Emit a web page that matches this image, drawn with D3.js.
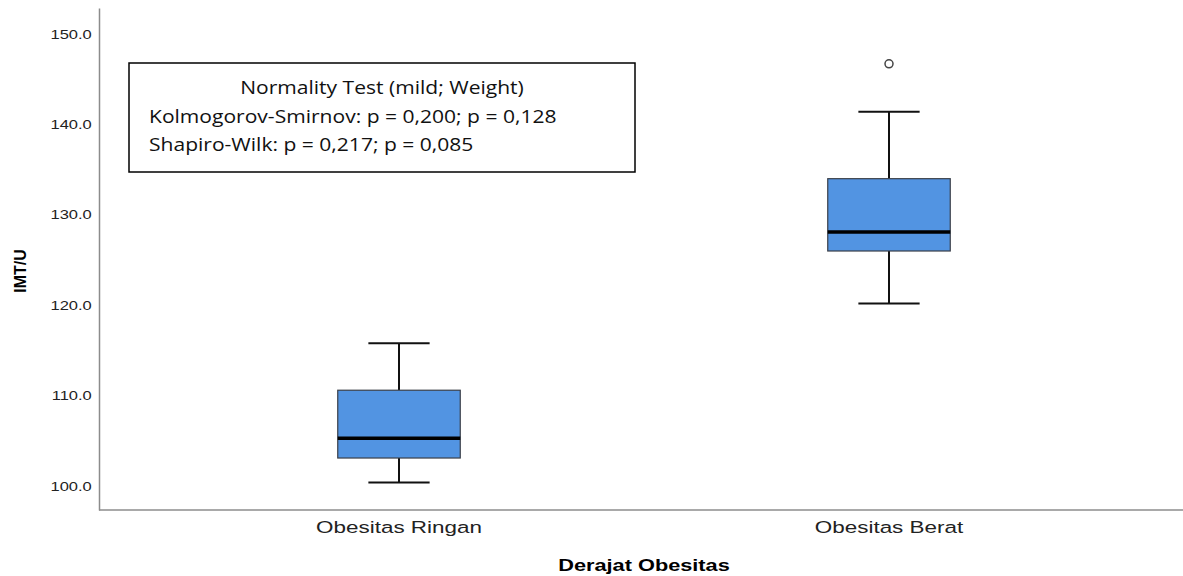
<!DOCTYPE html>
<html>
<head>
<meta charset="utf-8">
<script src="https://cdn.jsdelivr.net/npm/d3@7"></script>
<style>
  body { margin: 0; background: #fff; }
  svg { display: block; }
</style>
</head>
<body>
<script>
const categories = ['Obesitas Ringan', 'Obesitas Berat'];
// [lower whisker, Q1, median, Q3, upper whisker]
const lowWhisker = [100.4, 120.2];
const q1 = [103.1, 126.0];
const median = [105.3, 128.1];
const q3 = [110.6, 134.0];
const highWhisker = [115.8, 141.4];
const outliers = [[], [146.7]];
const yTicks = [100, 110, 120, 130, 140, 150];
const noteLines = [
    'Normality Test (mild; Weight)',
    'Kolmogorov-Smirnov: p = 0,200; p = 0,128',
    'Shapiro-Wilk: p = 0,217; p = 0,085'
];

const W = 1183, H = 576;
const axisLeftX = 99, axisBottomY = 510, axisTopY = 8;
const stretch = 'scale(1.32,1)';  // the source image is stretched horizontally

const svg = d3.select('body').append('svg')
    .attr('width', W)
    .attr('height', H);

const y = d3.scaleLinear()
    .domain([97.35, 152.88])
    .range([axisBottomY, axisTopY]);

const x = d3.scaleBand()
    .domain(categories)
    .range([154, 1134])
    .padding(0);

const boxW = x.bandwidth() * 0.25;
const capW = boxW / 2;

// y axis
const yAxis = d3.axisLeft(y)
    .tickValues(yTicks)
    .tickSize(0)
    .tickPadding(5.5)
    .tickFormat(d3.format('.1f'));

const gy = svg.append('g')
    .attr('transform', 'translate(' + axisLeftX + ',0)')
    .call(yAxis);
gy.select('.domain').attr('stroke', '#8c8c8c').attr('stroke-width', 1.5);
gy.selectAll('text')
    .attr('transform', stretch)
    .style('font-family', 'Liberation Sans, Arial, sans-serif')
    .style('font-size', '12.5px')
    .attr('fill', '#222');

// x axis
const xAxis = d3.axisBottom(x).tickSize(0).tickPadding(11);
const gx = svg.append('g')
    .attr('transform', 'translate(0,' + axisBottomY + ')')
    .call(xAxis);
gx.select('.domain').remove();
gx.append('line')
    .attr('x1', axisLeftX).attr('x2', W)
    .attr('stroke', '#8c8c8c').attr('stroke-width', 1.5);
gx.selectAll('text')
    .attr('transform', stretch)
    .style('font-family', 'Liberation Sans, Arial, sans-serif')
    .style('font-size', '17px')
    .attr('fill', '#222');

// axis titles
svg.append('text')
    .attr('transform', 'translate(26,271) rotate(-90)')
    .attr('text-anchor', 'middle')
    .style('font-family', 'Liberation Sans, Arial, sans-serif')
    .style('font-size', '16px')
    .style('font-weight', 'bold')
    .text('IMT/U');

svg.append('text')
    .attr('transform', 'translate(644,571) scale(1.36,1)')
    .attr('text-anchor', 'middle')
    .style('font-family', 'Liberation Sans, Arial, sans-serif')
    .style('font-size', '16px')
    .style('font-weight', 'bold')
    .text('Derajat Obesitas');

// boxes
const groups = svg.selectAll('.box')
    .data(categories)
    .enter().append('g')
    .attr('class', 'box')
    .attr('transform', function(d) {
        return 'translate(' + (x(d) + x.bandwidth() / 2) + ',0)';
    });

groups.append('line')
    .attr('y1', function(d, i) { return y(highWhisker[i]); })
    .attr('y2', function(d, i) { return y(q3[i]); })
    .attr('stroke', '#111').attr('stroke-width', 2);
groups.append('line')
    .attr('y1', function(d, i) { return y(lowWhisker[i]); })
    .attr('y2', function(d, i) { return y(q1[i]); })
    .attr('stroke', '#111').attr('stroke-width', 2);
groups.append('line')
    .attr('x1', -capW / 2).attr('x2', capW / 2)
    .attr('y1', function(d, i) { return y(highWhisker[i]); })
    .attr('y2', function(d, i) { return y(highWhisker[i]); })
    .attr('stroke', '#111').attr('stroke-width', 2);
groups.append('line')
    .attr('x1', -capW / 2).attr('x2', capW / 2)
    .attr('y1', function(d, i) { return y(lowWhisker[i]); })
    .attr('y2', function(d, i) { return y(lowWhisker[i]); })
    .attr('stroke', '#111').attr('stroke-width', 2);

groups.append('rect')
    .attr('x', -boxW / 2)
    .attr('width', boxW)
    .attr('y', function(d, i) { return y(q3[i]); })
    .attr('height', function(d, i) { return y(q1[i]) - y(q3[i]); })
    .attr('fill', '#5294e2')
    .attr('stroke', '#3a3f48')
    .attr('stroke-width', 1.2);

groups.append('line')
    .attr('x1', -boxW / 2).attr('x2', boxW / 2)
    .attr('y1', function(d, i) { return y(median[i]); })
    .attr('y2', function(d, i) { return y(median[i]); })
    .attr('stroke', '#000').attr('stroke-width', 3.5);

groups.selectAll('.outlier')
    .data(function(d, i) { return outliers[i]; })
    .enter().append('circle')
    .attr('class', 'outlier')
    .attr('cy', function(d) { return y(d); })
    .attr('r', 4)
    .attr('fill', '#fff')
    .attr('stroke', '#444')
    .attr('stroke-width', 1.5);

// annotation box
const note = svg.append('g');
note.append('rect')
    .attr('x', 129).attr('y', 63)
    .attr('width', 506).attr('height', 109)
    .attr('fill', '#fff')
    .attr('stroke', '#000')
    .attr('stroke-width', 1.5);
note.selectAll('text')
    .data(noteLines)
    .enter().append('text')
    .attr('transform', function(d, i) {
        const tx = i === 0 ? 382 : 149;
        return 'translate(' + tx + ',' + (94 + i * 28.5) + ') scale(1.17,1)';
    })
    .attr('text-anchor', function(d, i) { return i === 0 ? 'middle' : 'start'; })
    .style('font-family', '"Open Sans", sans-serif')
    .style('font-size', '18px')
    .attr('fill', '#111')
    .text(function(d) { return d; });
</script>
</body>
</html>
